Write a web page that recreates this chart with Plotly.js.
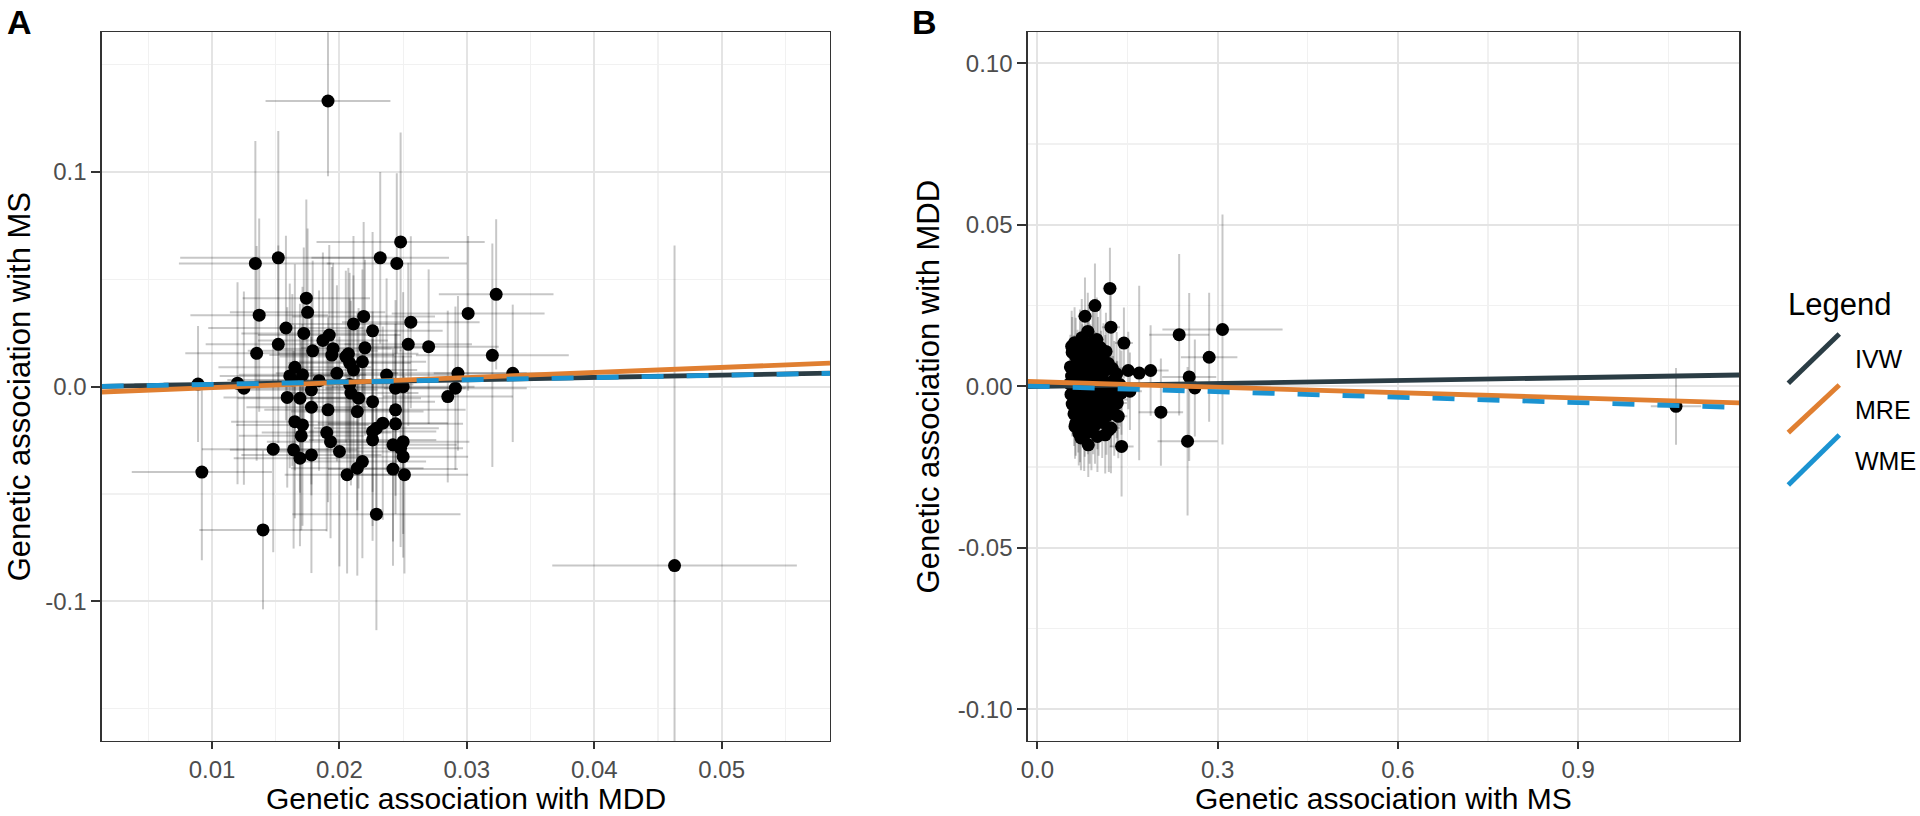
<!DOCTYPE html>
<html><head><meta charset="utf-8">
<script src="https://cdn.plot.ly/plotly-3.0.1.min.js"></script>
<style>html,body{margin:0;padding:0;background:#fff;} #chart{width:1920px;height:816px;}</style>
</head><body><div id="chart"></div>
<script>
// ---------------- Panel A: MDD (exposure) -> MS (outcome) ----------------
const A_mdd = [
0.0191,0.0134,0.0152,0.0248,0.0232,0.0245,0.0323,0.0174,0.0175,0.0137,
0.0301,0.0219,0.0211,0.0256,0.0158,0.0226,0.0172,0.0192,0.0187,0.0152,
0.0254,0.0270,0.0220,0.0195,0.0179,0.0207,0.0135,0.0320,0.0194,0.0218,
0.0205,0.0208,0.0211,0.0165,0.0171,0.0161,0.0163,0.0184,0.0178,0.0198,
0.0237,0.0208,0.0209,0.0215,0.0244,0.0250,0.0293,0.0291,0.0285,0.0336,
0.0089,0.0120,0.0125,0.0159,0.0169,0.0178,0.0191,0.0214,0.0226,0.0244,
0.0165,0.0171,0.0170,0.0190,0.0193,0.0200,0.0148,0.0164,0.0169,0.0178,
0.0226,0.0229,0.0234,0.0226,0.0244,0.0242,0.0250,0.0248,0.0250,0.0218,
0.0214,0.0206,0.0242,0.0251,0.0092,0.0140,0.0229,0.0463];
const A_ms = [
0.133,0.0574,0.0600,0.0674,0.0600,0.0574,0.0430,0.0412,0.0346,0.0333,
0.0341,0.0327,0.0292,0.0300,0.0273,0.0260,0.0248,0.0240,0.0215,0.0197,
0.0197,0.0186,0.0181,0.0177,0.0167,0.0153,0.0155,0.0146,0.0147,0.0116,
0.0140,0.0110,0.0078,0.0090,0.0055,0.0050,0.0031,0.0028,-0.0015,0.0062,
0.0054,0.0010,-0.0030,-0.0054,-0.0007,0.0000,0.0062,-0.0007,-0.0046,0.0062,
0.0012,0.0016,-0.0007,-0.0050,-0.0054,-0.0096,-0.0108,-0.0116,-0.0070,-0.0108,
-0.0163,-0.0178,-0.0229,-0.0214,-0.0256,-0.0302,-0.0291,-0.0294,-0.0333,-0.0318,
-0.0209,-0.0194,-0.0170,-0.0248,-0.0173,-0.0271,-0.0256,-0.0287,-0.0326,-0.0349,
-0.0380,-0.0410,-0.0384,-0.0410,-0.0398,-0.0667,-0.0594,-0.0833];
const A_mdd_ci = [
0.0049,0.0060,0.0077,0.0066,0.0054,0.0055,0.0045,0.0050,0.0061,0.0054,
0.0060,0.0056,0.0050,0.0054,0.0061,0.0055,0.0049,0.0056,0.0051,0.0057,
0.0050,0.0055,0.0050,0.0046,0.0051,0.0055,0.0056,0.0060,0.0049,0.0050,
0.0052,0.0048,0.0050,0.0060,0.0050,0.0055,0.0051,0.0049,0.0052,0.0048,
0.0058,0.0050,0.0053,0.0049,0.0055,0.0056,0.0054,0.0056,0.0051,0.0062,
0.0050,0.0058,0.0052,0.0050,0.0049,0.0051,0.0050,0.0052,0.0049,0.0055,
0.0050,0.0052,0.0049,0.0051,0.0050,0.0053,0.0056,0.0050,0.0052,0.0055,
0.0050,0.0049,0.0051,0.0050,0.0053,0.0050,0.0052,0.0049,0.0051,0.0050,
0.0052,0.0049,0.0051,0.0050,0.0055,0.0050,0.0066,0.0096];
const A_ms_ci = [
0.035,0.057,0.059,0.051,0.040,0.042,0.035,0.046,0.039,0.045,
0.036,0.044,0.041,0.040,0.043,0.046,0.040,0.042,0.041,0.046,
0.038,0.036,0.041,0.040,0.042,0.040,0.050,0.052,0.041,0.043,
0.040,0.042,0.044,0.048,0.041,0.043,0.040,0.042,0.044,0.041,
0.045,0.040,0.043,0.042,0.041,0.044,0.036,0.038,0.040,0.032,
0.027,0.047,0.045,0.042,0.044,0.041,0.043,0.046,0.042,0.040,
0.045,0.047,0.044,0.046,0.045,0.0535,0.048,0.046,0.041,0.055,
0.044,0.043,0.045,0.047,0.042,0.045,0.043,0.046,0.047,0.045,
0.050,0.046,0.045,0.046,0.041,0.037,0.054,0.149];

// ---------------- Panel B: MS (exposure) -> MDD (outcome) ----------------
const B_ms = [
0.1208,0.0959,0.0793,0.1225,0.1441,0.0572,0.0931,0.1142,0.2360,0.3081,
0.2859,0.1513,0.1695,0.1885,0.2527,0.2621,0.2056,0.2500,0.1402,0.0848,
0.1225,0.1347,0.0627,0.0726,0.1541,0.1320,1.0627,
0.058,0.064,0.071,0.083,0.092,0.101,0.110,0.067,0.075,0.088,
0.097,0.106,0.118,0.055,0.061,0.069,0.078,0.085,0.094,0.103,
0.113,0.125,0.132,0.057,0.063,0.072,0.080,0.089,0.098,0.107,
0.116,0.128,0.054,0.060,0.066,0.074,0.082,0.090,0.099,0.109,
0.121,0.137,0.056,0.062,0.070,0.077,0.086,0.095,0.104,0.114,
0.126,0.140,0.058,0.065,0.073,0.081,0.091,0.100,0.111,0.123,
0.133,0.061,0.068,0.076,0.084,0.093,0.102,0.115,0.128,0.064,
0.071,0.079,0.087,0.096,0.108,0.119,0.069,0.078,0.090,0.100,
0.113,0.062,0.086,0.105,0.074,0.099,0.084];
const B_mdd = [
0.0303,0.0250,0.0217,0.0183,0.0134,0.0124,0.0139,0.0108,0.0160,0.0176,
0.0090,0.0049,0.0041,0.0049,0.0029,-0.0005,-0.0080,-0.0170,-0.0186,-0.0181,
-0.0129,-0.0093,-0.0124,-0.0160,-0.0015,-0.0041,-0.0062,
0.0105,0.0092,0.0118,0.0098,0.0110,0.0095,0.0085,0.0075,0.0082,0.0072,
0.0068,0.0062,0.0071,0.0060,0.0048,0.0055,0.0061,0.0045,0.0052,0.0040,
0.0049,0.0055,0.0038,0.0032,0.0021,0.0035,0.0027,0.0030,0.0018,0.0025,
0.0012,0.0020,0.0008,-0.0005,0.0010,-0.0002,0.0005,-0.0010,0.0003,-0.0008,
-0.0012,0.0006,-0.0025,-0.0035,-0.0022,-0.0040,-0.0028,-0.0045,-0.0030,-0.0038,
-0.0026,-0.0020,-0.0055,-0.0065,-0.0058,-0.0070,-0.0062,-0.0075,-0.0060,-0.0068,
-0.0052,-0.0085,-0.0095,-0.0088,-0.0100,-0.0090,-0.0105,-0.0092,-0.0085,-0.0115,
-0.0125,-0.0118,-0.0130,-0.0120,-0.0112,-0.0135,-0.0145,-0.0152,-0.0140,-0.0155,
-0.0150,0.0135,0.0125,0.0120,0.0150,0.0145,0.0170];
const B_ms_ci = [
0.012,0.010,0.012,0.015,0.015,0.010,0.012,0.012,0.050,0.100,
0.047,0.025,0.022,0.030,0.045,0.040,0.037,0.050,0.020,0.012,
0.015,0.015,0.010,0.010,0.020,0.018,0.042,
0.009,0.010,0.011,0.012,0.012,0.013,0.014,0.010,0.011,0.012,
0.012,0.013,0.015,0.009,0.010,0.010,0.011,0.012,0.012,0.013,
0.014,0.016,0.016,0.009,0.010,0.010,0.011,0.012,0.012,0.013,
0.014,0.016,0.009,0.009,0.010,0.010,0.011,0.012,0.012,0.013,
0.015,0.017,0.009,0.010,0.010,0.011,0.012,0.012,0.013,0.014,
0.015,0.017,0.009,0.010,0.010,0.011,0.012,0.013,0.014,0.015,
0.016,0.009,0.010,0.011,0.011,0.012,0.013,0.014,0.015,0.010,
0.010,0.011,0.012,0.012,0.013,0.015,0.010,0.011,0.012,0.013,
0.014,0.009,0.011,0.013,0.011,0.012,0.012];
const B_mdd_ci = [
0.0126,0.013,0.012,0.012,0.011,0.011,0.013,0.012,0.025,0.0356,
0.020,0.012,0.027,0.014,0.026,0.015,0.0166,0.023,0.0155,0.010,
0.014,0.013,0.010,0.010,0.012,0.012,0.0119,
0.011,0.012,0.012,0.011,0.013,0.012,0.011,0.010,0.011,0.012,
0.010,0.011,0.013,0.010,0.011,0.009,0.010,0.011,0.012,0.010,
0.011,0.012,0.013,0.010,0.011,0.009,0.010,0.011,0.010,0.012,
0.011,0.012,0.010,0.009,0.010,0.011,0.010,0.012,0.010,0.011,
0.012,0.013,0.010,0.011,0.009,0.010,0.011,0.012,0.010,0.011,
0.012,0.013,0.010,0.011,0.010,0.011,0.010,0.012,0.011,0.012,
0.013,0.010,0.011,0.010,0.011,0.012,0.011,0.012,0.013,0.010,
0.011,0.010,0.011,0.012,0.011,0.013,0.010,0.011,0.012,0.011,
0.012,0.011,0.012,0.012,0.012,0.013,0.012];

// ---------------- MR estimates (lines) ----------------
const methods = ['IVW', 'MRE', 'WME'];
const A_slope = [0.107, 0.235, 0.106];
const A_intercept = [0, -0.0028, 0];
const B_slope = [0.0030, -0.0056, -0.0056];
const B_intercept = [0, 0.0014, 0];

// ---------------- Tick labels and axis titles ----------------
const A_xTicks = [0.01, 0.02, 0.03, 0.04, 0.05];
const A_xTickText = ['0.01', '0.02', '0.03', '0.04', '0.05'];
const A_xMinor = [0.005, 0.015, 0.025, 0.035, 0.045, 0.055];
const A_yTicks = [-0.1, 0, 0.1];
const A_yTickText = ['-0.1', '0.0', '0.1'];
const A_yMinor = [-0.15, -0.05, 0.05, 0.15];
const B_xTicks = [0, 0.3, 0.6, 0.9];
const B_xTickText = ['0.0', '0.3', '0.6', '0.9'];
const B_xMinor = [0.15, 0.45, 0.75, 1.05];
const B_yTicks = [-0.1, -0.05, 0, 0.05, 0.1];
const B_yTickText = ['-0.10', '-0.05', '0.00', '0.05', '0.10'];
const B_yMinor = [-0.075, -0.025, 0.025, 0.075];
const A_xTitle = 'Genetic association with MDD', A_yTitle = 'Genetic association with MS';
const B_xTitle = 'Genetic association with MS', B_yTitle = 'Genetic association with MDD';

// ---------------- Styles ----------------
const W = 1920, H = 816;
const px = v => v / W, py = v => 1 - v / H;
const FONT = 'Liberation Sans, Arial, Helvetica, sans-serif';
const lineStyle = {
  IVW: {color: '#2b3d45', width: 4.8, dash: 'solid'},
  MRE: {color: '#e07f31', width: 4.8, dash: 'solid'},
  WME: {color: '#1b93d1', width: 4.8, dash: '22px,23px'}
};
const A_xRange = [0.00134, 0.0585], A_yRange = [-0.165, 0.165];
const B_xRange = [-0.016, 1.168], B_yRange = [-0.1098, 0.1096];

function axisBase(tickvals, ticktext, minorvals, range, tlen) {
  return {
    range: range, tickmode: 'array', tickvals: tickvals, ticktext: ticktext,
    showline: true, mirror: true, linecolor: '#333333', linewidth: 1.4,
    ticks: 'outside', ticklen: tlen, tickwidth: 2, tickcolor: '#333333',
    tickfont: {family: FONT, size: 24, color: '#4d4d4d'},
    showgrid: true, gridcolor: '#e4e4e4', gridwidth: 2, zeroline: false,
    minor: {tickmode: 'array', tickvals: minorvals, showgrid: true, gridcolor: '#f1f1f1', gridwidth: 1.2, ticks: ''},
    fixedrange: true
  };
}

const pointTrace = (x, y, ex, ey, xa, ya) => ({
  type: 'scatter', mode: 'markers', x: x, y: y, xaxis: xa, yaxis: ya, showlegend: false,
  marker: {color: '#000000', size: 13},
  error_x: {type: 'data', array: ex, visible: true, color: 'rgba(0,0,0,0.22)', thickness: 2, width: 0},
  error_y: {type: 'data', array: ey, visible: true, color: 'rgba(0,0,0,0.22)', thickness: 2, width: 0},
  hoverinfo: 'skip'
});

const lineTraces = (slopes, intercepts, xr, xa, ya) => methods.map((m, i) => ({
  type: 'scatter', mode: 'lines', xaxis: xa, yaxis: ya, showlegend: false, name: m,
  x: xr, y: xr.map(v => intercepts[i] + slopes[i] * v),
  line: lineStyle[m], hoverinfo: 'skip'
}));

const data = [
  pointTrace(A_mdd, A_ms, A_mdd_ci, A_ms_ci, 'x', 'y'),
  ...lineTraces(A_slope, A_intercept, A_xRange, 'x', 'y'),
  pointTrace(B_ms, B_mdd, B_ms_ci, B_mdd_ci, 'x2', 'y2'),
  ...lineTraces(B_slope, B_intercept, B_xRange, 'x2', 'y2')
];

const titleFont = {family: FONT, size: 31, color: '#000'};
const xTitleFont = {family: FONT, size: 30, color: '#000'};
const yDom = [py(741), py(32.3)];
const xDomA = [px(101.7), px(830)], xDomB = [px(1027.7), px(1739.3)];
const layout = {
  width: W, height: H, margin: {l: 0, r: 0, t: 0, b: 0},
  paper_bgcolor: '#ffffff', plot_bgcolor: '#ffffff',
  font: {family: FONT},
  xaxis: Object.assign(axisBase(A_xTicks, A_xTickText, A_xMinor, A_xRange, 7), {domain: xDomA, anchor: 'y'}),
  yaxis: Object.assign(axisBase(A_yTicks, A_yTickText, A_yMinor, A_yRange, 9), {
    domain: yDom, anchor: 'x', title: {text: A_yTitle, font: titleFont, standoff: 5}
  }),
  xaxis2: Object.assign(axisBase(B_xTicks, B_xTickText, B_xMinor, B_xRange, 7), {domain: xDomB, anchor: 'y2'}),
  yaxis2: Object.assign(axisBase(B_yTicks, B_yTickText, B_yMinor, B_yRange, 9), {
    domain: yDom, anchor: 'x2', title: {text: B_yTitle, font: titleFont, standoff: 9}
  }),
  shapes: [],
  annotations: [
    {text: A_xTitle, xref: 'paper', yref: 'paper', x: (xDomA[0] + xDomA[1]) / 2, y: 0, xanchor: 'center', yanchor: 'bottom', borderpad: 0, showarrow: false, font: xTitleFont},
    {text: B_xTitle, xref: 'paper', yref: 'paper', x: (xDomB[0] + xDomB[1]) / 2, y: 0, xanchor: 'center', yanchor: 'bottom', borderpad: 0, showarrow: false, font: xTitleFont},
    {text: '<b>A</b>', xref: 'paper', yref: 'paper', x: px(5), y: py(1), xanchor: 'left', yanchor: 'top', showarrow: false, font: {family: FONT, size: 34, color: '#000'}},
    {text: '<b>B</b>', xref: 'paper', yref: 'paper', x: px(910), y: py(1), xanchor: 'left', yanchor: 'top', showarrow: false, font: {family: FONT, size: 34, color: '#000'}},
    {text: 'Legend', xref: 'paper', yref: 'paper', x: px(1786), y: py(304), xanchor: 'left', yanchor: 'middle', showarrow: false, font: {family: FONT, size: 31, color: '#000'}}
  ]
};

// custom legend (diagonal keys as drawn by ggplot's abline legend)
const legendKeys = [
  {m: 'IVW', x0: 1788.3, y0: 383.3, x1: 1839.3, y1: 334, ty: 359.3},
  {m: 'MRE', x0: 1788.3, y0: 432.7, x1: 1839.3, y1: 385, ty: 409.6},
  {m: 'WME', x0: 1788.3, y0: 485, x1: 1839.3, y1: 435, ty: 461.3}
];
legendKeys.forEach(k => {
  layout.shapes.push({type: 'line', xref: 'paper', yref: 'paper', x0: px(k.x0), y0: py(k.y0), x1: px(k.x1), y1: py(k.y1),
    line: {color: lineStyle[k.m].color, width: 5}});
  layout.annotations.push({text: k.m, xref: 'paper', yref: 'paper', x: px(1853), y: py(k.ty), xanchor: 'left', yanchor: 'middle',
    showarrow: false, font: {family: FONT, size: 25, color: '#000'}});
});

Plotly.newPlot('chart', data, layout, {displayModeBar: false, staticPlot: true});
</script></body></html>
